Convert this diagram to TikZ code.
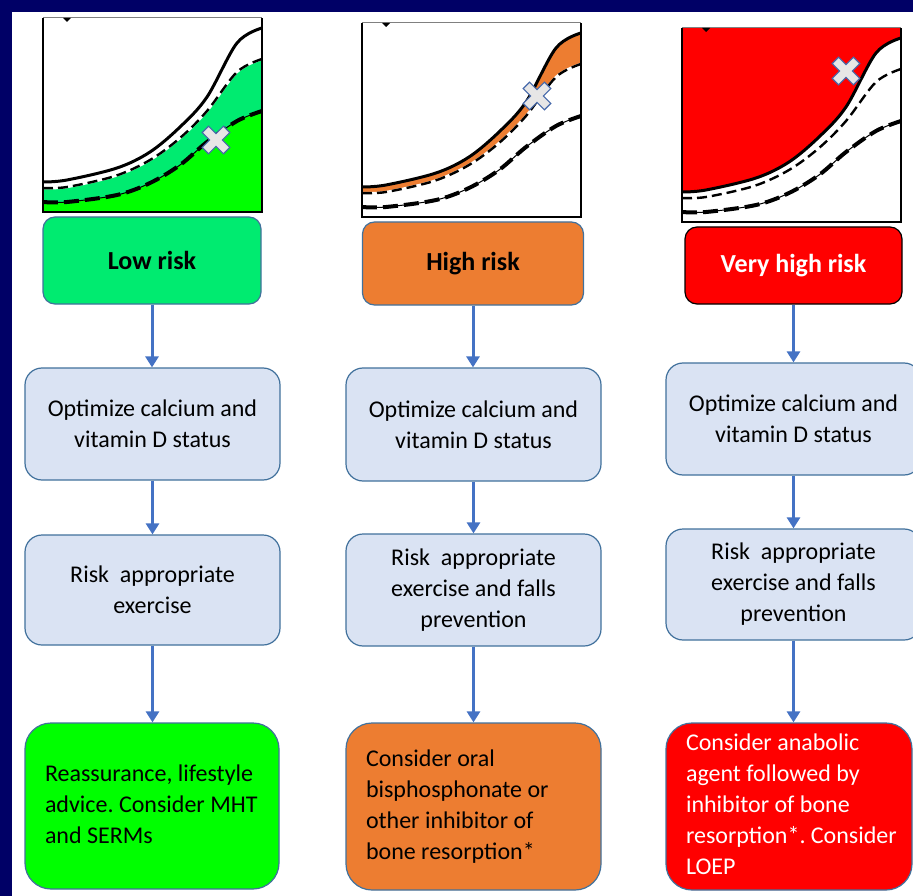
\documentclass[tikz,border=0pt]{standalone}
\usepackage{fontspec}
\setmainfont{Carlito}
\frenchspacing
\usetikzlibrary{arrows.meta}
\definecolor{navy}{RGB}{0,0,102}
\definecolor{lgreen}{RGB}{0,235,112}
\definecolor{bgreen}{RGB}{0,255,0}
\definecolor{orng}{RGB}{237,125,49}
\definecolor{vred}{RGB}{255,0,0}
\definecolor{boxfill}{RGB}{218,227,243}
\definecolor{boxline}{RGB}{65,113,156}
\definecolor{arrblue}{RGB}{68,114,196}
\definecolor{xfill}{RGB}{231,230,230}
\definecolor{xline}{RGB}{70,105,170}
\def\curveA{plot[smooth,tension=0.55] coordinates {(0,30) (24,32) (74,44) (107,60) (137,85) (164,115) (194,169) (219,184)}}
\def\curveB{plot[smooth,tension=0.55] coordinates {(0,24) (24,25) (72,36) (107,52) (137,74) (164,101) (194,140) (219,153)}}
\def\toCurveBr{-- plot[smooth,tension=0.55] coordinates {(219,153) (194,140) (164,101) (137,74) (107,52) (72,36) (24,25) (0,24)}}
\def\curveC{plot[smooth,tension=0.55] coordinates {(0,10) (24,10) (74,17) (107,29) (137,47) (164,70) (194,91) (219,101)}}
\def\toCurveCr{-- plot[smooth,tension=0.55] coordinates {(219,101) (194,91) (164,70) (137,47) (107,29) (74,17) (24,10) (0,10)}}
\newcommand{\leftblock}[2]{\makebox[#1][l]{\begin{tabular}{@{}l@{}}#2\end{tabular}}}
\tikzset{
  basebox/.style={line width=1.2pt, align=center, inner sep=0pt},
  riskbox/.style={basebox, draw=boxline, rounded corners=12pt, font=\fontsize{26}{31}\selectfont\bfseries},
  stepbox/.style={basebox, draw=boxline, fill=boxfill, rounded corners=17pt, minimum width=255pt, font=\fontsize{24}{31}\selectfont},
  finalbox/.style={draw=boxline, line width=1.2pt, rounded corners=26pt, inner ysep=0pt, inner xsep=20pt, font=\fontsize{24}{31}\selectfont},
  arr/.style={draw=arrblue, line width=3pt, -{Triangle[length=11pt,width=13pt]}},
  solidcurve/.style={black, line width=3pt},
  dashcurve/.style={black, line width=2.4pt, dash pattern=on 10pt off 5pt},
  thickdash/.style={black, line width=4pt, dash pattern=on 15pt off 6pt},
}
\newcommand{\chartframe}{%
  \draw[gray, line width=1pt] (0,194) -- (219,194);
  \draw[black, line width=2.4pt] (0,194) -- (0,0) -- (219,0) -- (219,194);
  \fill[black] (20,194) -- (28,194) -- (24,190) -- cycle;
}
\newcommand{\chartcurves}{%
  \draw[solidcurve] \curveA;
  \draw[white, line width=2.4pt] \curveB;
  \draw[dashcurve] \curveB;
  \draw[black, line width=1pt] \curveC;
  \draw[thickdash] \curveC;
}
\newcommand{\xmark}[2]{%
  \draw[xline, fill=xfill, line width=1.2pt, shift={(#1,#2)}, rotate=45]
    (-4.5,15) -- (4.5,15) -- (4.5,4.5) -- (15,4.5) -- (15,-4.5) -- (4.5,-4.5) -- (4.5,-15)
    -- (-4.5,-15) -- (-4.5,-4.5) -- (-15,-4.5) -- (-15,4.5) -- (-4.5,4.5) -- cycle;
}
\begin{document}
\begin{tikzpicture}[x=1pt,y=1pt]
\clip (0,0) rectangle (913,-896);
\fill[white] (0,0) rectangle (913,-896);
\fill[navy] (0,0) rectangle (913,-12);
\fill[navy] (0,0) rectangle (12,-896);

% chart 1: low risk
\begin{scope}[shift={(43,-212)}]
  \fill[white] (0,0) rectangle (219,194);
  \fill[lgreen] \curveB \toCurveCr -- cycle;
  \fill[bgreen] \curveC -- (219,0) -- (0,0) -- cycle;
  \chartcurves
  \chartframe
  \xmark{173}{72}
\end{scope}

% chart 2: high risk
\begin{scope}[shift={(362,-217)}]
  \fill[white] (0,0) rectangle (219,194);
  \fill[orng] \curveA \toCurveBr -- cycle;
  \chartcurves
  \chartframe
  \xmark{175}{121}
\end{scope}

% chart 3: very high risk
\begin{scope}[shift={(682,-222)}]
  \fill[white] (0,0) rectangle (219,194);
  \fill[vred] \curveA -- (219,194) -- (0,194) -- cycle;
  \chartcurves
  \chartframe
  \xmark{164}{151}
\end{scope}

% risk boxes
\node[riskbox, fill=lgreen, minimum width=218pt, minimum height=87pt] (r1) at (152,-260.5) {Low risk};
\node[riskbox, fill=orng, minimum width=221pt, minimum height=83pt] (r2) at (473,-263.5) {High risk};
\node[riskbox, draw=black, fill=vred, text=white, minimum width=217pt, minimum height=77pt] (r3) at (793.5,-265.5) {Very high risk};

% optimize boxes
\node[stepbox, minimum height=112pt] (o1) at (152.5,-424) {Optimize calcium and\\vitamin D status};
\node[stepbox, minimum height=113pt] (o2) at (473.5,-424.5) {Optimize calcium and\\vitamin D status};
\node[stepbox, minimum height=112pt] (o3) at (793.5,-419) {Optimize calcium and\\vitamin D status};

% exercise boxes
\node[stepbox, minimum height=110pt] (e1) at (152.5,-590) {Risk~\ appropriate\\exercise};
\node[stepbox, minimum height=112pt] (e2) at (473.5,-590) {Risk~\ appropriate\\exercise and falls\\prevention};
\node[stepbox, minimum height=111pt] (e3) at (793.5,-584.5) {Risk~\ appropriate\\exercise and falls\\prevention};

% final boxes
\node[finalbox, fill=bgreen, minimum height=166pt] (f1) at (152,-806) {\leftblock{214pt}{Reassurance, lifestyle\\advice. Consider MHT\\and SERMs}};
\node[finalbox, fill=orng, minimum height=167pt] (f2) at (473.5,-806.5) {\leftblock{215pt}{Consider oral\\bisphosphonate or\\other inhibitor of\\bone resorption*}};
\node[finalbox, fill=vred, text=white, minimum height=167pt] (f3) at (789,-806.5) {\leftblock{206pt}{Consider anabolic\\agent followed by\\inhibitor of bone\\resorption*. Consider\\LOEP}};

% connectors
\foreach \c in {1,2,3} {
  \draw[arr] (r\c.south) -- (r\c.south |- o\c.north);
  \draw[arr] (o\c.south) -- (o\c.south |- e\c.north);
  \draw[arr] (e\c.south) -- (e\c.south |- f\c.north);
}
\end{tikzpicture}
\end{document}
